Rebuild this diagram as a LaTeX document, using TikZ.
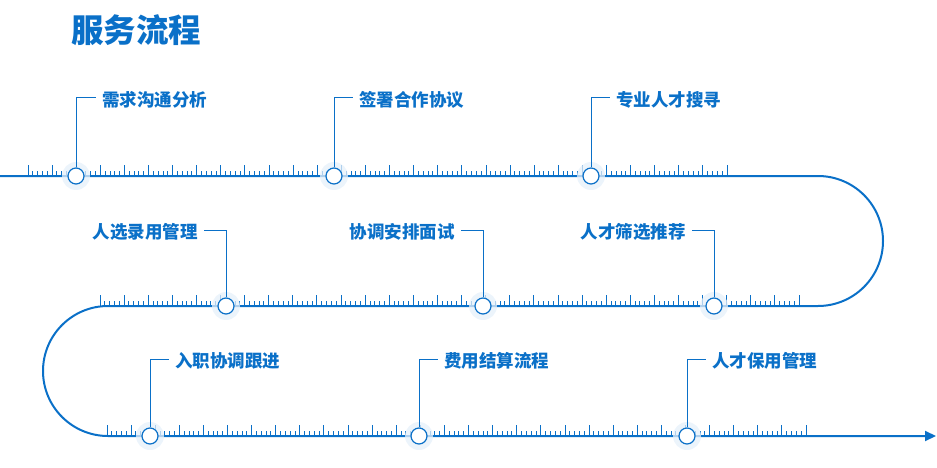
\documentclass[tikz,border=0pt]{standalone}
\usepackage{fontspec}
\usetikzlibrary{arrows.meta}
\newfontfamily\cjk{Noto Sans CJK SC}
\newfontfamily\cjkheavy{Noto Sans CJK SC Black}
\definecolor{mainblue}{HTML}{0A70C8}
\definecolor{halo}{HTML}{E6F0FA}
\begin{document}
\begin{tikzpicture}[x=1pt,y=1pt,
  lbl/.style={font=\cjkheavy\fontsize{17.5}{20}\selectfont, text=mainblue, inner sep=0pt},
  leader/.style={draw=mainblue, line width=1pt},
  dotc/.style={circle, draw=mainblue, fill=white, line width=1.2pt, minimum size=16pt, inner sep=0pt},
  haloc/.style={circle, fill=halo, opacity=0.75, minimum size=28pt, inner sep=0pt}]
\useasboundingbox (0,0) rectangle (937,-468);
% title
\node[font=\cjkheavy\fontsize{32.5}{36}\selectfont, text=mainblue, anchor=west, inner sep=0pt] (title) at (71,-30) {服务流程};
% main path
\draw[mainblue, line width=2pt, -{Triangle[length=11pt,width=10pt]}]
  (0,-176) -- (818,-176) arc[start angle=90,end angle=-90,radius=65]
  -- (108,-306) arc[start angle=90,end angle=270,radius=65] -- (936,-436);
% ticks
\foreach \xs/\ys in {28/176, 100/306, 107/436}{
  \foreach \k in {0,...,145}{
    \pgfmathsetmacro{\xx}{\xs+\k*4.8207}
    \pgfmathsetmacro{\hh}{mod(\k,5)==0?11.5:5.5}
    \draw[mainblue, line width=0.9pt] (\xx,-\ys) -- ++(0,\hh);
  }
}
% halos and dots
\foreach \n/\x/\y in {d1/76/176, d2/334/176, d3/591/176, d4/226/306, d5/483/306, d6/714/306, d7/150/436, d8/419/436, d9/687/436}{
  \node[haloc] at (\x,-\y) {};
  \node[dotc] (\n) at (\x,-\y) {};
}
% labels
\node[lbl, anchor=west] (l1) at (102,-100) {需求沟通分析};
\node[lbl, anchor=west] (l2) at (359,-100) {签署合作协议};
\node[lbl, anchor=west] (l3) at (616,-100) {专业人才搜寻};
\node[lbl, anchor=east] (l4) at (198,-232) {人选录用管理};
\node[lbl, anchor=east] (l5) at (455,-232) {协调安排面试};
\node[lbl, anchor=east] (l6) at (686,-232) {人才筛选推荐};
\node[lbl, anchor=west] (l7) at (175,-361) {入职协调跟进};
\node[lbl, anchor=west] (l8) at (444,-361) {费用结算流程};
\node[lbl, anchor=west] (l9) at (712,-361) {人才保用管理};
% leaders
\draw[leader] (d1.north) |- ([xshift=-6pt,yshift=2pt]l1.west);
\draw[leader] (d2.north) |- ([xshift=-6pt,yshift=2pt]l2.west);
\draw[leader] (d3.north) |- ([xshift=-6pt,yshift=2pt]l3.west);
\draw[leader] (d4.north) |- ([xshift=6pt,yshift=2pt]l4.east);
\draw[leader] (d5.north) |- ([xshift=6pt,yshift=2pt]l5.east);
\draw[leader] (d6.north) |- ([xshift=6pt,yshift=2pt]l6.east);
\draw[leader] (d7.north) |- ([xshift=-6pt,yshift=2pt]l7.west);
\draw[leader] (d8.north) |- ([xshift=-6pt,yshift=2pt]l8.west);
\draw[leader] (d9.north) |- ([xshift=-6pt,yshift=2pt]l9.west);
\end{tikzpicture}
\end{document}
